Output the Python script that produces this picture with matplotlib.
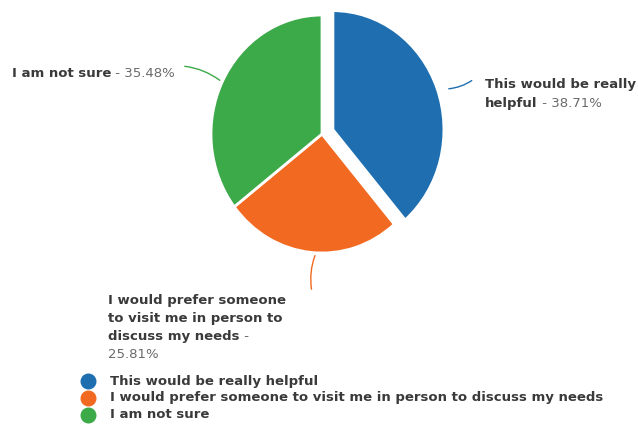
import matplotlib
matplotlib.use("Agg")
import matplotlib.pyplot as plt
import numpy as np
import textwrap

categories = ["This would be really helpful",
              "I would prefer someone to visit me in person to discuss my needs",
              "I am not sure"]
values = [38.71, 25.81, 35.48]
colors = ["#1f6fb0", "#f26a21", "#3daa49"]
wrap_widths = [20, 24, 40]

W, H = 638, 425
fig = plt.figure(figsize=(W / 100, H / 100), dpi=100)
ax = fig.add_axes([0, 0, 1, 1])
ax.set_xlim(0, W)
ax.set_ylim(0, H)
ax.axis("off")

# pie axes (reference pie is slightly squashed horizontally)
cx, cy, rx, ry = 322, 134, 111, 119
ext = 1.3
pw, ph = 2 * ext * rx, 2 * ext * ry
pax = fig.add_axes([(cx - pw / 2) / W, (H - cy - ph / 2) / H, pw / W, ph / H])
pax.pie(values, colors=colors, startangle=90, counterclock=False,
        explode=[0.105, 0, 0], radius=1, center=(0, 0),
        wedgeprops=dict(edgecolor="white", linewidth=2))
pax.set_aspect("auto")
pax.set_xlim(-ext, ext)
pax.set_ylim(-ext, ext)
pax.axis("off")

FONT = "DejaVu Sans"
FS = 9.5
bold_c = "#3a3a3a"
norm_c = "#6a6a6a"

fig.canvas.draw()
renderer = fig.canvas.get_renderer()


def draw_label(x, y_top, name, pct, width, line_h=18):
    words = name.split()
    nb = len(words)
    allw = words + ["-", pct]
    lines = textwrap.wrap(" ".join(allw), width=width)
    idx = 0
    y = y_top
    for line in lines:
        lw = line.split()
        segs = []
        for w in lw:
            b = idx < nb
            idx += 1
            if segs and segs[-1][1] == b:
                segs[-1][0].append(w)
            else:
                segs.append([[w], b])
        px = x
        first = True
        for ws, b in segs:
            s = (" " if not first else "") + " ".join(ws)
            t = ax.text(px, H - y, s, fontsize=FS, family=FONT,
                        fontweight="bold" if b else "normal",
                        color=bold_c if b else norm_c, ha="left", va="baseline")
            bb = t.get_window_extent(renderer)
            px += bb.width
            first = False
        y += line_h


# label positions (image coords: left x, baseline of first line, line height)
label_pos = [(485, 88, 19), (108, 304, 18), (12, 77, 18)]
# leader lines: from wedge edge towards the label
leader = [((446, 89), (474, 79)), ((316, 253), (312, 292)), ((222, 82), (182, 66))]
for i, (cat, v) in enumerate(zip(categories, values)):
    lx, ly, lh = label_pos[i]
    draw_label(lx, ly, cat, f"{v:.2f}%", wrap_widths[i], lh)
    (x0, y0), (x1, y1) = leader[i]
    ax.annotate("", xy=(x1, H - y1), xytext=(x0, H - y0),
                arrowprops=dict(arrowstyle="-", color=colors[i], lw=1,
                                connectionstyle="arc3,rad=0.15"))

# legend
for i, cat in enumerate(categories):
    ly = H - (381 + 17 * i)
    ax.scatter([88], [ly], s=110, color=colors[i], zorder=3)
    ax.text(110, ly, cat, fontsize=FS, family=FONT, fontweight="bold",
            color=bold_c, ha="left", va="center")

fig.savefig("out.png", dpi=100)
